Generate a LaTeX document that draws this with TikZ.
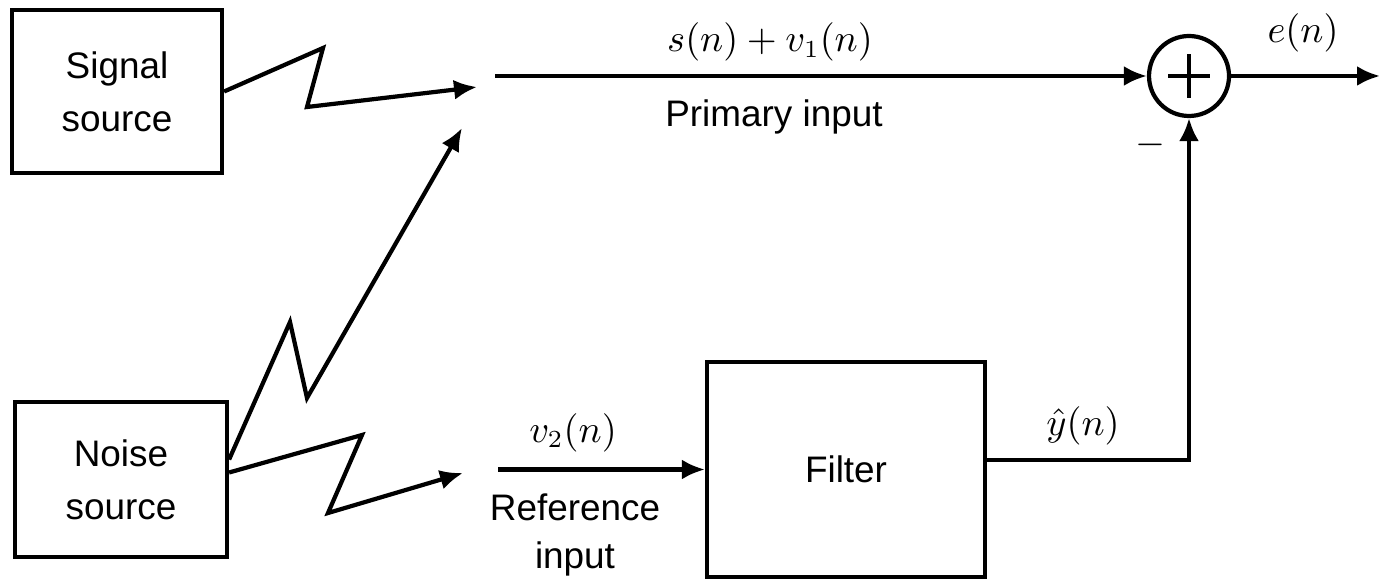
\documentclass[tikz,border=0pt]{standalone}
\usepackage{fontspec}
\setmainfont{Liberation Sans}
\usetikzlibrary{arrows.meta}

\begin{document}
\begin{tikzpicture}[
        every node/.style={font=\fontsize{10.5}{15}\selectfont},
        bloco/.style={draw, line width=1.2pt, inner sep=0pt, align=center},
        somador/.style={circle, draw, line width=1.2pt, minimum size=8mm, inner sep=0pt},
        rotulo/.style={anchor=base},
        >={Latex[length=2.3mm,width=2mm]},
        line width=1.2pt
    ]
    \useasboundingbox (0,0) rectangle (13.81,5.86);

    %--------------------------------
    % blocks
    %--------------------------------
    \node[bloco, minimum width=2.10cm, minimum height=1.63cm] (signal) at (1.17,4.945) {Signal\\source};
    \node[bloco, minimum width=2.12cm, minimum height=1.55cm] (noise) at (1.21,1.065) {Noise\\source};
    \node[bloco, minimum width=2.78cm, minimum height=2.15cm] (filter) at (8.46,1.165) {Filter};
    \node[somador] (sum) at (11.89,5.10) {};
    \draw (sum.center) ++(-0.21,0) -- ++(0.42,0)
          (sum.center) ++(0,-0.22) -- ++(0,0.44);

    %--------------------------------
    % free ends
    %--------------------------------
    \coordinate (ptip) at (4.77,4.99);
    \coordinate (ntip) at (4.62,4.58);
    \coordinate (rtip) at (4.63,1.13);
    \coordinate (pstart) at (4.95,5.10);
    \coordinate (rstart) at (4.98,1.165);
    \coordinate (eout) at (13.80,5.10);
    \coordinate (corner) at (11.89,1.26);

    %--------------------------------
    % wireless paths
    %--------------------------------
    \draw[->] (signal.east) -- (3.23,5.38) -- (3.07,4.79) -- (ptip);
    \draw[->] ([yshift=2mm]noise.east) -- (2.90,2.64) -- (3.07,1.88) -- (ntip);
    \draw[->] ([yshift=0.7mm]noise.east) -- (3.62,1.51) -- (3.28,0.73) -- (rtip);

    %--------------------------------
    % signal lines
    %--------------------------------
    \draw[->] (pstart) -- (sum.west);
    \draw[->] (sum.east) -- (eout);
    \draw[->] (rstart) -- (filter.west);
    \draw[->] (filter.east |- corner) -- (corner) -- (sum.south);

    %--------------------------------
    % labels
    %--------------------------------
    \node[rotulo] (lsum) at (7.70,5.34) {$s(n)+v_1(n)$};
    \node[rotulo] (lprim) at (7.74,4.59) {Primary input};
    \node[rotulo] (lerr) at (13.03,5.43) {$e(n)$};
    \node (lminus) at (11.50,4.41) {$-$};
    \node[rotulo] (lref) at (5.73,1.44) {$v_2(n)$};
    \node[align=center, font=\fontsize{10.5}{13.4}\selectfont] (lrefin) at (5.75,0.51) {Reference\\input};
    \node[rotulo] (lout) at (10.83,1.51) {$\hat{y}(n)$};

\end{tikzpicture}
\end{document}
